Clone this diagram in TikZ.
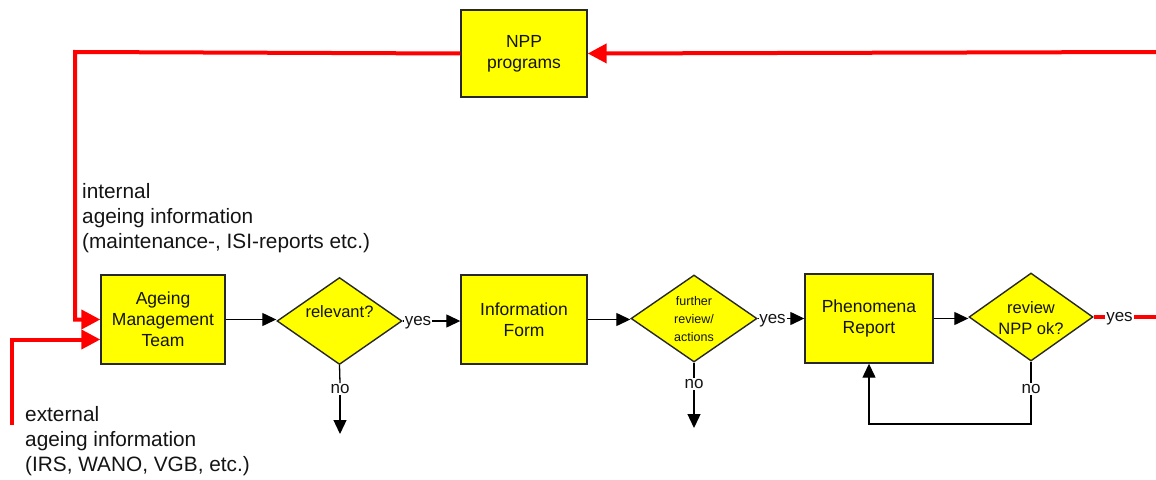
\documentclass[tikz,border=0pt]{standalone}
\usepackage{fontspec}
\setmainfont{Liberation Sans}
\usetikzlibrary{arrows.meta,shapes.geometric}
\definecolor{boxfill}{RGB}{255,255,0}
\definecolor{boxline}{RGB}{40,40,40}
\definecolor{flowred}{RGB}{255,0,0}
\definecolor{ink}{RGB}{20,20,20}

\begin{document}
\begin{tikzpicture}[x=1pt,y=-1pt,
  procbox/.style={rectangle,draw=boxline,line width=1.4pt,fill=boxfill,inner sep=0pt,
    align=center,text=ink,font=\fontsize{17.5}{21}\selectfont},
  decision/.style={diamond,draw=boxline,line width=1.4pt,fill=boxfill,inner sep=0pt},
  dtext/.style={text=ink,align=center,inner sep=0pt,font=\fontsize{16.5}{21}\selectfont},
  flowlabel/.style={inner sep=1pt,text=ink,font=\fontsize{17}{20}\selectfont},
  infotext/.style={inner sep=0pt,anchor=north west,align=left,text=ink,
    font=\fontsize{20.8}{25}\selectfont},
  blackflow/.style={draw=black,line width=1.3pt},
  blackhead/.style={-{Triangle[length=14pt,width=13pt]}},
  redflow/.style={draw=flowred,line width=4pt},
  redhead/.style={-{Triangle[length=19pt,width=19pt]}}
]
\path[use as bounding box] (0,0) rectangle (1156,479);

% process boxes
\node[procbox,minimum width=126pt,minimum height=87pt] (npp) at (524,53.5) {NPP\\programs};
\node[procbox,minimum width=124pt,minimum height=89pt] (amt) at (163,319.5) {Ageing\\Management\\Team};
\node[procbox,minimum width=126pt,minimum height=89pt] (info) at (524,319.5) {Information\\Form};
\node[procbox,minimum width=128pt,minimum height=89pt] (phen) at (869,318.5) {Phenomena\\Report};

% decisions (shape and wording kept apart so the diamonds keep their size)
\node[decision,minimum width=125pt,minimum height=87pt,
  label={[name=relT,dtext,yshift=9pt]center:relevant?}] (rel) at (339.5,321) {};
\node[decision,minimum width=126pt,minimum height=87pt,
  label={[name=furT,dtext,font=\fontsize{12.5}{18}\selectfont,yshift=-1pt]center:further\\review/\\actions}]
  (fur) at (694,318.5) {};
\node[decision,minimum width=124pt,minimum height=88pt,
  label={[name=revT,dtext,yshift=-1pt]center:review\\NPP ok?}] (rev) at (1031,317) {};

% branch labels
\node[flowlabel] (yes1) at (418,323) {yes};
\node[flowlabel] (yes2) at (772.5,320.5) {yes};
\node[flowlabel] (yes3) at (1119.5,319) {yes};
\node[flowlabel] (no1) at (340,389) {no};
\node[flowlabel] (no2) at (694,384) {no};
\node[flowlabel] (no3) at (1031,389) {no};

% loose ends of the flow
\coordinate (relEnd) at (340,434);
\coordinate (furEnd) at (694,428);
\coordinate (revLoop) at (1031,424);
\coordinate (outRight) at (1156,317);
\coordinate (inTop) at (1156,52);
\coordinate (intCorner) at (75,52);
\coordinate (extStart) at (12,425);

% information sources
\node[infotext] (intT) at (82,183.5) {internal\\ageing information\\(maintenance-, ISI-reports etc.)};
\node[infotext] (extT) at (25,406.5) {external\\ageing information\\(IRS, WANO, VGB, etc.)};

% main flow
\draw[blackflow,blackhead] (amt.east) -- (amt.east -| rel.west);
\draw[blackflow] (rel.east) -- (rel.east -| yes1.west);
\draw[blackflow,blackhead] (rel.east -| yes1.east) -- (rel.east -| info.west);
\draw[blackflow,blackhead] (info.east) -- (info.east -| fur.west);
\draw[blackflow] (fur.east) -- (fur.east -| yes2.west);
\draw[blackflow,blackhead] (fur.east -| yes2.east) -- (fur.east -| phen.west);
\draw[blackflow,blackhead] (phen.east) -- (phen.east -| rev.west);

% "no" branches
\draw[blackflow] (rel.south) -- (no1.north);
\draw[blackflow,blackhead] (no1.south) -- (relEnd);
\draw[blackflow] (fur.south) -- (no2.north);
\draw[blackflow,blackhead] (no2.south) -- (furEnd);
\draw[blackflow] (rev.south) -- (no3.north);
\draw[blackflow,blackhead] (no3.south) -- (revLoop) -| (phen.south);

% feedback to the plant programs
\draw[redflow] (rev.east) -- (rev.east -| yes3.west);
\draw[redflow] (rev.east -| yes3.east) -- (outRight);
\draw[redflow,redhead] (inTop) -- (npp.east);
\draw[redflow,redhead,line join=miter] (npp.west) -- (intCorner) |- (amt.west);
\draw[redflow,redhead,line join=miter] (extStart) |- ([yshift=-20pt]amt.west);
\end{tikzpicture}
\end{document}
